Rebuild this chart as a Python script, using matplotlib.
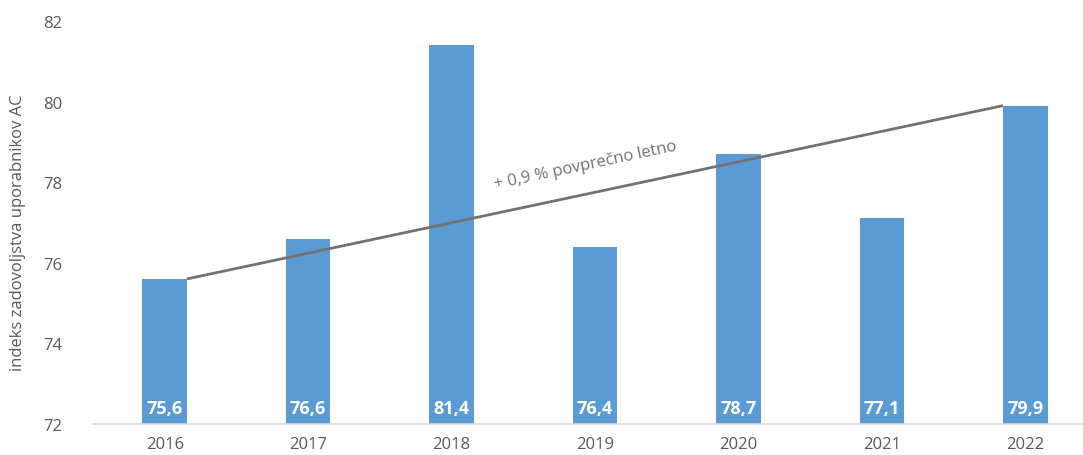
import matplotlib
matplotlib.use("Agg")
import matplotlib.pyplot as plt
import numpy as np

plt.rcParams['font.family'] = ['Open Sans', 'DejaVu Sans']

years = ['2016', '2017', '2018', '2019', '2020', '2021', '2022']
values = [75.6, 76.6, 81.4, 76.4, 78.7, 77.1, 79.9]
value_labels = ['75,6', '76,6', '81,4', '76,4', '78,7', '77,1', '79,9']
trend_label = '+ 0,9 % povprečno letno'
ylabel = 'indeks zadovoljstva uporabnikov AC'

W, H = 1083, 456
fig = plt.figure(figsize=(W / 100, H / 100), dpi=100)
ax = fig.add_axes([93 / W, 1 - 425 / H, (W - 93) / W, (425 - 22) / H])

x = np.arange(len(years))
bw = 0.31
bar_color = '#5B9BD5'
ax.bar(x, values, width=bw, color=bar_color, zorder=2)

for xi, lab in zip(x, value_labels):
    ax.annotate(lab, (xi, 72), xytext=(0, 5), textcoords='offset points',
                ha='center', va='bottom', color='white', fontweight='bold', fontsize=13, zorder=4)

# trend line from right edge of first bar to left edge of last bar
ax.plot([x[0] + bw / 2, x[-1] - bw / 2], [values[0], values[-1]], color='#767171', lw=2, zorder=3,
        solid_capstyle='butt')

ax.set_ylim(72, 82)
ax.set_yticks([72, 74, 76, 78, 80, 82])
ax.set_xlim(-0.5, 6.5 - 14 / 143.5)
ax.set_xticks(x)
ax.set_xticklabels(years)

for s in ['top', 'right', 'left']:
    ax.spines[s].set_visible(False)
ax.spines['bottom'].set_color('#D9D9D9')
ax.spines['bottom'].set_linewidth(1.2)
ax.tick_params(axis='both', length=0, colors='#595959', labelsize=12)
ax.tick_params(axis='y', pad=22)
ax.tick_params(axis='x', pad=9)

ax.text(2.93, 78.42, trend_label, rotation=12, color='#767171', fontsize=12,
        ha='center', va='center', rotation_mode='anchor')

fig.text(18 / W, 1 - 233 / H, ylabel, rotation=90, ha='center', va='center',
         color='#595959', fontsize=12)

fig.savefig('out.png', dpi=100)
